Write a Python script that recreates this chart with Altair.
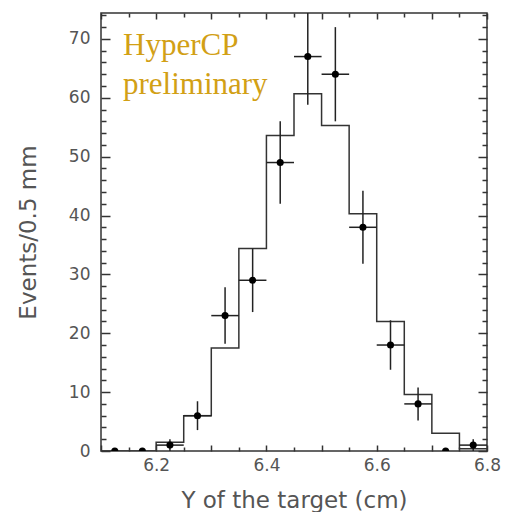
import altair as alt
import pandas as pd

# ---- data ----
BIN_EDGES = [6.10, 6.15, 6.20, 6.25, 6.30, 6.35, 6.40, 6.45, 6.50, 6.55, 6.60, 6.65, 6.70, 6.75, 6.80]
HIST_COUNTS = [0, 0, 1.5, 6.0, 17.5, 34.4, 53.6, 60.7, 55.3, 40.3, 22.0, 9.6, 3.0, 0.4]

BIN_CENTERS = [6.125, 6.175, 6.225, 6.275, 6.325, 6.375, 6.425, 6.475, 6.525, 6.575, 6.625, 6.675, 6.725, 6.775]
DATA_COUNTS = [0, 0, 1, 6, 23, 29, 49, 67, 64, 38, 18, 8, 0, 1]
ERR_LO = [0, 0, 0, 3.55, 18.2, 23.6, 42.0, 58.8, 56.0, 31.8, 13.8, 5.2, 0, 0]
ERR_HI = [0, 0, 2, 8.45, 27.8, 34.4, 56.0, 75.2, 72.0, 44.2, 22.2, 10.8, 0, 2]

X_DOMAIN = [6.1, 6.8]
Y_DOMAIN = [0, 74.4]

X_LABEL_TICKS = [6.2, 6.4, 6.6, 6.8]
X_MAJOR_TICKS = [6.1, 6.2, 6.3, 6.4, 6.5, 6.6, 6.7, 6.8]
X_MINOR_TICKS = [6.15, 6.25, 6.35, 6.45, 6.55, 6.65, 6.75]
Y_LABEL_TICKS = [0, 10, 20, 30, 40, 50, 60, 70]
Y_MAJOR_TICKS = [0, 10, 20, 30, 40, 50, 60, 70]
Y_MINOR_TICKS = [2, 4, 6, 8, 12, 14, 16, 18, 22, 24, 26, 28, 32, 34, 36, 38,
                 42, 44, 46, 48, 52, 54, 56, 58, 62, 64, 66, 68, 72, 74]

ANNOTATION_LINES = ["HyperCP", "preliminary"]

X_TITLE = "Y of the target (cm)"
Y_TITLE = "Events/0.5 mm"

# ---- tables ----
step_df = pd.DataFrame({"x": BIN_EDGES, "y": HIST_COUNTS + [HIST_COUNTS[-1]]})
pts_df = pd.DataFrame({
    "center": BIN_CENTERS,
    "count": DATA_COUNTS,
    "lo": ERR_LO,
    "hi": ERR_HI,
    "xlo": BIN_EDGES[:-1],
    "xhi": BIN_EDGES[1:],
})
err_df = pts_df[pts_df["count"] > 0]

FONT = "DejaVu Sans"
TEXT_GRAY = "#555555"
LINE = "#333333"

xs = alt.Scale(domain=X_DOMAIN, nice=False, zero=False)
ys = alt.Scale(domain=Y_DOMAIN, nice=False, zero=False)


def tick_axis(orient, values, size):
    return alt.Axis(orient=orient, values=values, tickSize=size, offset=-size,
                    labels=False, domain=False, grid=False, ticks=True,
                    tickColor=LINE, tickWidth=1.5)


x_label_axis = alt.Axis(
    orient="bottom", values=X_LABEL_TICKS, ticks=False, domain=False, grid=False,
    labelPadding=6, labelFont=FONT, labelFontSize=17, labelColor=TEXT_GRAY,
    labelFlush=False, labelOverlap=False, labelBound=False,
    title=X_TITLE, titleFont=FONT, titleFontSize=23, titleFontWeight="normal",
    titleColor=TEXT_GRAY, titleX=193, titleY=56, titleBaseline="alphabetic",
    titleAlign="center",
)
y_label_axis = alt.Axis(
    orient="left", values=Y_LABEL_TICKS, ticks=False, domain=False, grid=False,
    labelPadding=11, labelFont=FONT, labelFontSize=17, labelColor=TEXT_GRAY,
    labelOverlap=False, labelBound=False, labelFlush=False,
    title=Y_TITLE, titleFont=FONT, titleFontSize=23, titleFontWeight="normal",
    titleColor=TEXT_GRAY, titleAngle=270, titleX=-66, titleY=219,
    titleBaseline="alphabetic", titleAlign="center",
)

hist = alt.Chart(step_df).mark_line(
    interpolate="step-after", color=LINE, strokeWidth=1.5, clip=True
).encode(
    x=alt.X("x:Q", scale=xs, axis=x_label_axis),
    y=alt.Y("y:Q", scale=ys, axis=y_label_axis),
)

vbars = alt.Chart(err_df).mark_rule(color="#222222", strokeWidth=1.5, clip=True).encode(
    x=alt.X("center:Q", scale=xs, axis=tick_axis("bottom", X_MAJOR_TICKS, 6), title=None),
    y=alt.Y("lo:Q", scale=ys, axis=tick_axis("left", Y_MAJOR_TICKS, 9), title=None),
    y2="hi:Q",
)

hbars = alt.Chart(err_df).mark_rule(color="#222222", strokeWidth=1.5, clip=True).encode(
    x=alt.X("xlo:Q", scale=xs, axis=tick_axis("bottom", X_MINOR_TICKS, 4), title=None),
    x2="xhi:Q",
    y=alt.Y("count:Q", scale=ys, axis=tick_axis("left", Y_MINOR_TICKS, 5), title=None),
)

points = alt.Chart(pts_df).mark_circle(color="black", size=50, opacity=1, clip=True).encode(
    x=alt.X("center:Q", scale=xs, axis=tick_axis("top", X_MAJOR_TICKS, 6), title=None),
    y=alt.Y("count:Q", scale=ys, axis=tick_axis("right", Y_MAJOR_TICKS, 9), title=None),
)

ghost = alt.Chart(pts_df).mark_circle(opacity=0, size=1).encode(
    x=alt.X("center:Q", scale=xs, axis=tick_axis("top", X_MINOR_TICKS, 4), title=None),
    y=alt.Y("count:Q", scale=ys, axis=tick_axis("right", Y_MINOR_TICKS, 5), title=None),
)

label = alt.Chart(pd.DataFrame({"k": [0]})).mark_text(
    text=ANNOTATION_LINES, font="Liberation Serif", fontSize=31, color="#D2A015",
    align="left", baseline="alphabetic", lineHeight=39,
).encode(x=alt.value(22), y=alt.value(42))

chart = alt.layer(hist, vbars, hbars, points, ghost, label).resolve_axis(
    x="independent", y="independent"
).properties(
    width=386, height=438,
    autosize=alt.AutoSizeParams(type="none"),
    padding={"left": 101, "top": 13, "right": 18, "bottom": 61},
    background="white",
).configure_view(stroke=LINE, strokeWidth=1.5)

chart.save("out.html", embed_options={"renderer": "svg", "actions": False})
